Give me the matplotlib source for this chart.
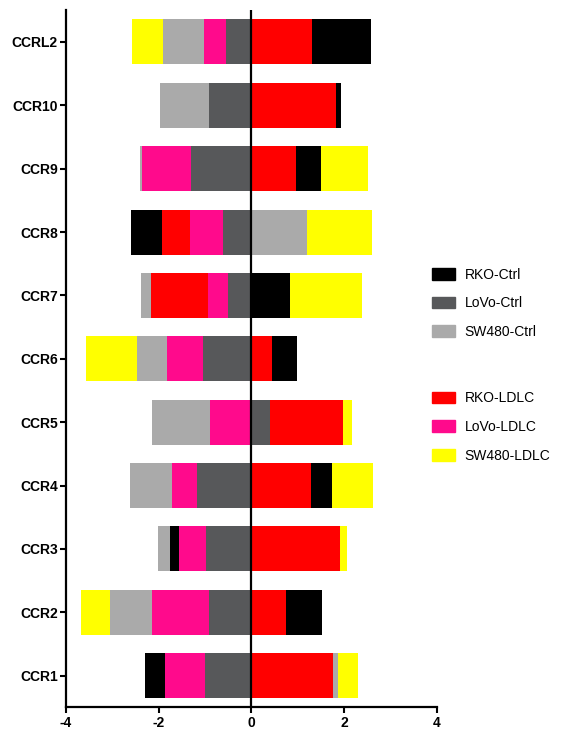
import matplotlib.pyplot as plt
import matplotlib.patches as mpatches
import numpy as np

plt.rcParams['font.family'] = ['Liberation Sans', 'DejaVu Sans']
plt.rcParams['axes.unicode_minus'] = False

genes = ["CCR1", "CCR2", "CCR3", "CCR4", "CCR5", "CCR6", "CCR7", "CCR8", "CCR9", "CCR10", "CCRL2"]

# values per series, same order as genes (bottom to top)
lovo_ctrl = [-0.99, -0.92, -0.98, -1.17, 0.40, -1.04, -0.50, -0.60, -1.30, -0.91, -0.55]
lovo_ldlc = [-0.88, -1.22, -0.59, -0.54, -0.89, -0.78, -0.44, -0.72, -1.06, 0.0, -0.47]
rko_ldlc = [1.76, 0.76, 1.92, 1.30, 1.58, 0.45, -1.22, -0.61, 0.97, 1.84, 1.32]
rko_ctrl = [-0.42, 0.77, -0.18, 0.44, 0.0, 0.54, 0.84, -0.66, 0.53, 0.10, 1.26]
sw480_ctrl = [0.11, -0.92, -0.27, -0.90, -1.25, -0.65, -0.22, 1.20, -0.05, -1.07, -0.89]
sw480_ldlc = [0.43, -0.61, 0.15, 0.89, 0.19, -1.10, 1.55, 1.41, 1.01, 0.0, -0.67]

series = [
    ("LoVo-Ctrl", lovo_ctrl, "#57585a"),
    ("LoVo-LDLC", lovo_ldlc, "#ff0a8c"),
    ("RKO-LDLC", rko_ldlc, "#ff0000"),
    ("RKO-Ctrl", rko_ctrl, "#000000"),
    ("SW480-Ctrl", sw480_ctrl, "#aaaaaa"),
    ("SW480-LDLC", sw480_ldlc, "#ffff00"),
]

fig = plt.figure(figsize=(5.64, 7.33), dpi=100)
ax = fig.add_axes([0.117, 0.035, 0.657, 0.951])

y = np.arange(len(genes))
pos = np.zeros(len(genes))
neg = np.zeros(len(genes))
for name, vals, color in series:
    vals = np.array(vals)
    left = np.where(vals >= 0, pos, neg)
    ax.barh(y, vals, left=left, height=0.71, color=color, linewidth=0)
    pos = pos + np.clip(vals, 0, None)
    neg = neg + np.clip(vals, None, 0)

ax.axvline(0, color="black", linewidth=1.6)
ax.set_xlim(-4, 4)
ax.set_ylim(-0.5, 10.5)
ax.set_xticks([-4, -2, 0, 2, 4])
ax.set_yticks(y)
ax.set_yticklabels(genes)
for lab in ax.get_xticklabels() + ax.get_yticklabels():
    lab.set_fontweight("bold")
    lab.set_fontsize(10)
ax.tick_params(width=1.5, length=4, pad=2)
for side in ["top", "right"]:
    ax.spines[side].set_visible(False)
for side in ["left", "bottom"]:
    ax.spines[side].set_linewidth(1.6)

ctrl_handles = [mpatches.Patch(color="#000000", label="RKO-Ctrl"),
                mpatches.Patch(color="#57585a", label="LoVo-Ctrl"),
                mpatches.Patch(color="#aaaaaa", label="SW480-Ctrl")]
ldlc_handles = [mpatches.Patch(color="#ff0000", label="RKO-LDLC"),
                mpatches.Patch(color="#ff0a8c", label="LoVo-LDLC"),
                mpatches.Patch(color="#ffff00", label="SW480-LDLC")]

leg_kw = dict(loc="upper left", frameon=False, fontsize=10, borderpad=0,
              handlelength=1.65, handleheight=0.9, handletextpad=0.7,
              labelspacing=1.05, borderaxespad=0)
fig.legend(handles=ctrl_handles, bbox_to_anchor=(0.766, 0.635), **leg_kw)
fig.legend(handles=ldlc_handles, bbox_to_anchor=(0.766, 0.466), **leg_kw)

fig.savefig("out.png", dpi=100)
